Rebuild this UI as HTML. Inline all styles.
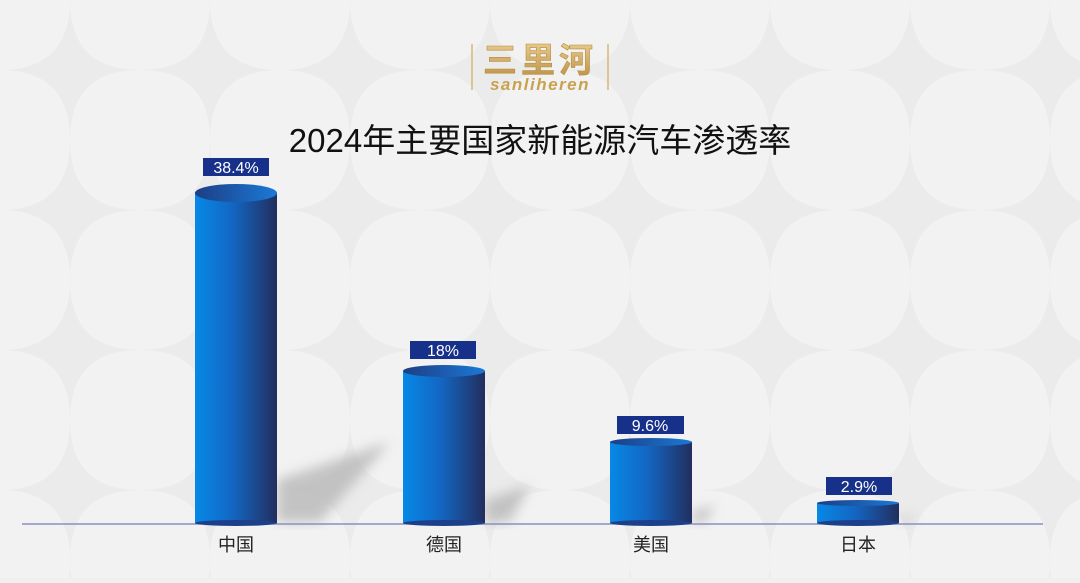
<!DOCTYPE html>
<html><head><meta charset="utf-8"><style>
body{margin:0;width:1080px;height:578px;background:#f0f0f0;overflow:hidden;font-family:"Liberation Sans","Noto Sans CJK SC",sans-serif;}
</style></head><body>
<svg width="1080" height="578" viewBox="0 0 1080 578" xmlns="http://www.w3.org/2000/svg">
<defs>
<linearGradient id="bg" x1="0" x2="1"><stop offset="0" stop-color="#0788e6"/><stop offset="0.45" stop-color="#1367c4"/><stop offset="1" stop-color="#222e5e"/></linearGradient>
<linearGradient id="tg" x1="0" x2="1"><stop offset="0" stop-color="#1e3d85"/><stop offset="1" stop-color="#1a7ad6"/></linearGradient>
<linearGradient id="gold" x1="0" y1="0" x2="0" y2="1"><stop offset="0" stop-color="#f3dba0"/><stop offset="1" stop-color="#b88c3e"/></linearGradient>
<filter id="bl"><feGaussianBlur stdDeviation="6"/></filter>
<pattern id="pt" width="140" height="140" patternUnits="userSpaceOnUse">
<rect width="140" height="140" fill="#f2f2f2"/>
<path d="M70 0 Q70 70 140 70 Q70 70 70 140 Q70 70 0 70 Q70 70 70 0Z" fill="#ebebeb"/>
</pattern>
</defs>
<rect width="1080" height="578" fill="url(#pt)"/>
<g font-family="Liberation Sans, Noto Sans CJK SC, sans-serif">
<line x1="472" y1="44" x2="472" y2="90" stroke="#d8b774" stroke-width="1.5"/>
<line x1="608" y1="44" x2="608" y2="90" stroke="#d8b774" stroke-width="1.5"/>
<text x="540" y="72" text-anchor="middle" font-size="34" font-weight="bold" fill="url(#gold)" stroke="#b88c3e" stroke-width="0.6" font-family="Noto Sans CJK SC, sans-serif" letter-spacing="4">三里河</text>
<text x="540" y="90" text-anchor="middle" font-size="17" font-style="italic" font-weight="bold" fill="#c9a250" letter-spacing="1.5">sanliheren</text>
<text x="540" y="152" text-anchor="middle" font-size="33" fill="#111" font-family="Liberation Sans, Noto Sans CJK SC, sans-serif">2024年主要国家新能源汽车渗透率</text>
</g>
<g filter="url(#bl)" fill="#b8b8b8" opacity="0.8">
<polygon points="277,522 277,480 390,442 320,522"/>
<polygon points="485,522 485,500 530,485 510,522"/>
<polygon points="692,522 692,512 715,505 705,522"/>
<polygon points="899,522 899,518 915,516 910,522"/>
</g>
<line x1="22" y1="524" x2="1043" y2="524" stroke="#8a90c0" stroke-width="1.5"/>
<g>
<rect x="195" y="193" width="82" height="330" fill="url(#bg)"/><ellipse cx="236" cy="523" rx="41" ry="3" fill="#1b3f88"/><ellipse cx="236" cy="193" rx="41" ry="9" fill="url(#tg)"/>
<rect x="403" y="371" width="82" height="152" fill="url(#bg)"/><ellipse cx="444" cy="523" rx="41" ry="3" fill="#1b3f88"/><ellipse cx="444" cy="371" rx="41" ry="6" fill="url(#tg)"/>
<rect x="610" y="442" width="82" height="81" fill="url(#bg)"/><ellipse cx="651" cy="523" rx="41" ry="3" fill="#1b3f88"/><ellipse cx="651" cy="442" rx="41" ry="4" fill="url(#tg)"/>
<rect x="817" y="503" width="82" height="20" fill="url(#bg)"/><ellipse cx="858" cy="523" rx="41" ry="3" fill="#1b3f88"/><ellipse cx="858" cy="503" rx="41" ry="3" fill="url(#tg)"/>
</g>
<g font-size="16" fill="#fff" text-anchor="middle">
<rect x="203" y="158" width="66" height="18" fill="#17308a"/><text x="236" y="173">38.4%</text>
<rect x="410" y="341" width="66" height="18" fill="#17308a"/><text x="443" y="356">18%</text>
<rect x="617" y="416" width="67" height="18" fill="#17308a"/><text x="650" y="431">9.6%</text>
<rect x="826" y="477" width="66" height="18" fill="#17308a"/><text x="859" y="492">2.9%</text>
</g>
<g font-size="18" fill="#222" text-anchor="middle" font-family="Noto Sans CJK SC, sans-serif">
<text x="236" y="551">中国</text><text x="444" y="551">德国</text><text x="651" y="551">美国</text><text x="858" y="551">日本</text>
</g>
</svg>
</body></html>
